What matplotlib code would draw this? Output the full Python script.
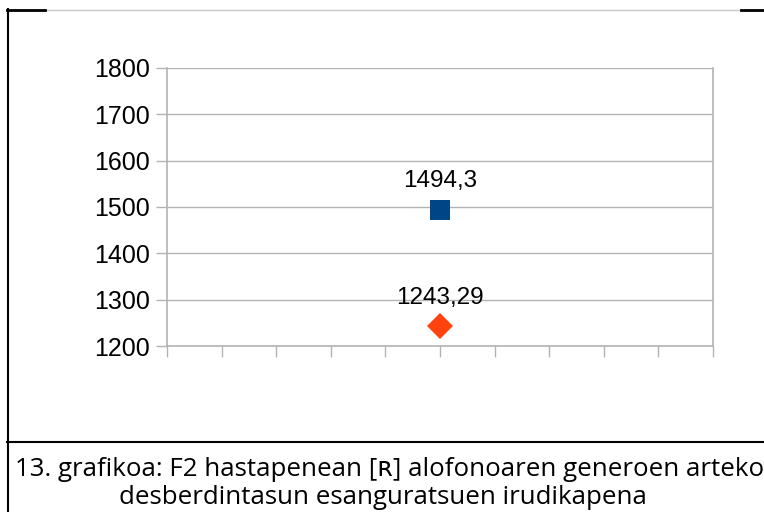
import matplotlib
matplotlib.use("Agg")
import matplotlib.pyplot as plt
from matplotlib.lines import Line2D

# data
series_names = ["Gizonezkoak", "Emakumezkoak"]
x_positions = [5, 5]
values = [1494.3, 1243.29]
value_labels = ["1494,3", "1243,29"]
colors = ["#004586", "#ff420e"]
markers = ["s", "D"]
y_ticks = [1200, 1300, 1400, 1500, 1600, 1700, 1800]
x_ticks = list(range(0, 11))
caption_lines = ["13. grafikoa: F2 hastapenean [ʀ] alofonoaren generoen arteko",
                 "desberdintasun esanguratsuen irudikapena"]

W, H = 764, 512
fig = plt.figure(figsize=(W / 100, H / 100), dpi=100)

def fx(px):
    return px / W

def fy(py):
    return 1 - py / H

# axes
ax = fig.add_axes([fx(167), fy(346), fx(713) - fx(167), fy(68) - fy(346)])
grey = "#b3b3b3"
ax.set_xlim(0, 10)
ax.set_ylim(1200, 1800)
ax.set_yticks(y_ticks)
ax.set_xticks(x_ticks)
ax.set_xticklabels([])
ax.set_yticklabels([str(v) for v in y_ticks], fontfamily="Liberation Sans", fontsize=18)
ax.yaxis.grid(True, color=grey, linewidth=1)
ax.set_axisbelow(True)
for s in ["left", "bottom", "right"]:
    ax.spines[s].set_color(grey)
    ax.spines[s].set_linewidth(1.2)
ax.spines["top"].set_visible(False)
ax.tick_params(axis="y", length=8, width=1, color=grey, pad=4, labelcolor="black")
ax.tick_params(axis="x", length=8, width=1, color=grey, direction="out")

sizes = [14.5, 13]
for xv, v, lab, c, m, ms in zip(x_positions, values, value_labels, colors, markers, sizes):
    ax.plot([xv], [v], marker=m, color=c, markersize=ms, linestyle="none",
            markeredgewidth=0, clip_on=False)
    ax.annotate(lab, (xv, v), xytext=(0, 16), textcoords="offset points",
                ha="center", va="baseline", fontsize=17.5, fontfamily="Liberation Sans")

# frame lines
def hline(y, x0, x1, color, lw):
    fig.add_artist(Line2D([fx(x0), fx(x1)], [fy(y), fy(y)], color=color, linewidth=lw,
                          transform=fig.transFigure))

def vline(x, y0, y1, color, lw):
    fig.add_artist(Line2D([fx(x), fx(x)], [fy(y0), fy(y1)], color=color, linewidth=lw,
                          transform=fig.transFigure))

hline(10, 45, 741, "#c8c8c8", 1.0)
hline(10, 7, 45, "black", 2.0)
hline(10, 741, 764, "black", 2.0)
vline(8, 9, 512, "black", 1.5)
hline(442, 7, 764, "black", 1.5)

cap_font = ["Open Sans", "DejaVu Sans"]
fig.text(fx(390), fy(470), caption_lines[0], ha="center", va="center", fontsize=18.6,
         fontfamily=cap_font)
fig.text(fx(383), fy(497), caption_lines[1], ha="center", va="center", fontsize=18.6,
         fontfamily=cap_font)

fig.savefig("out.png", dpi=100)
